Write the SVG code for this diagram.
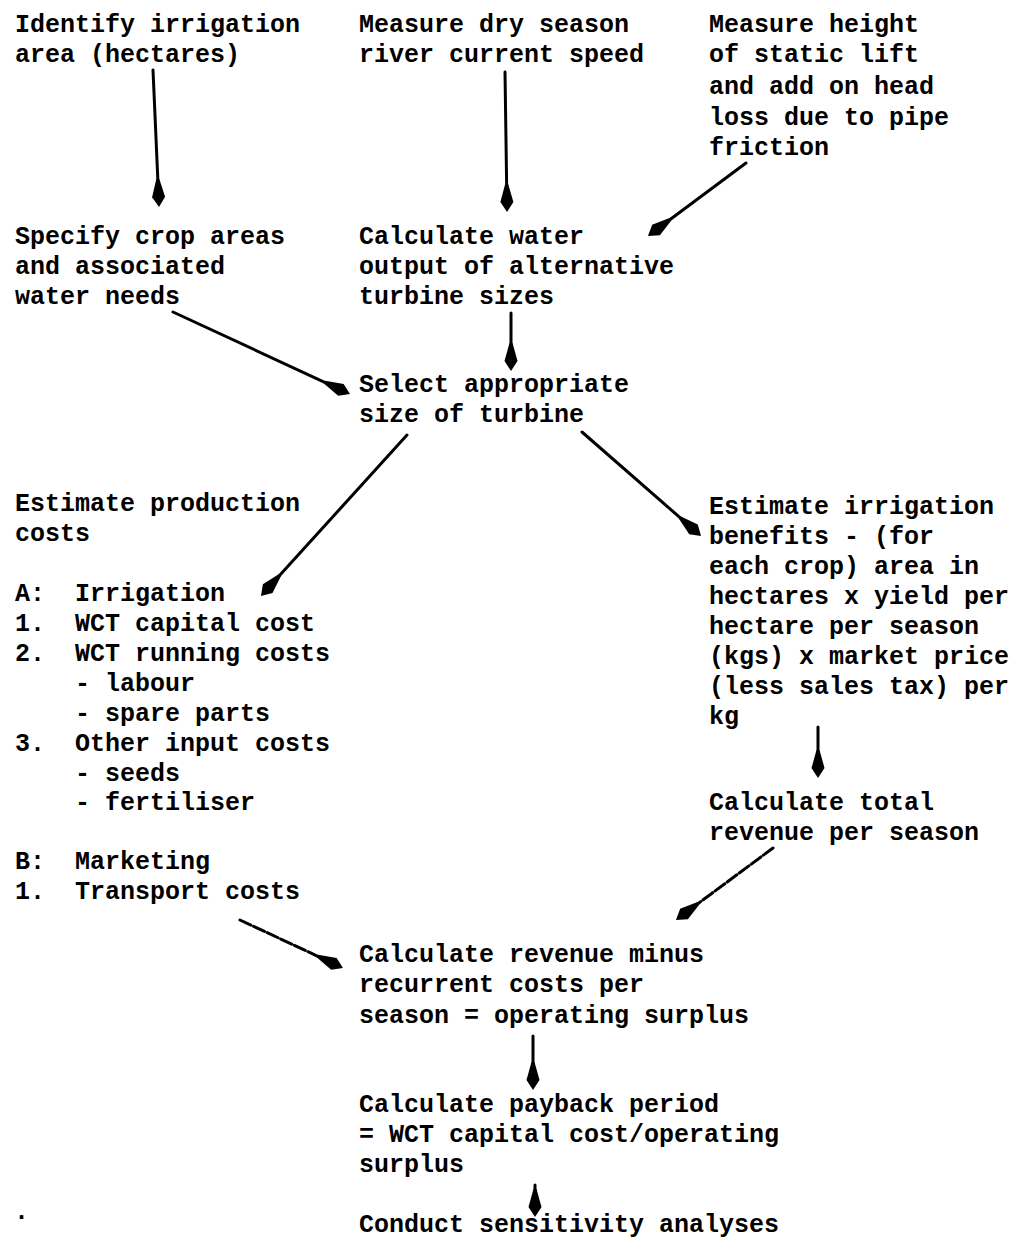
<svg xmlns="http://www.w3.org/2000/svg" width="1015" height="1243" viewBox="0 0 1015 1243">
<style>
text{font-family:"Liberation Mono","DejaVu Sans Mono",monospace;font-size:25px;font-weight:bold;fill:#000}
.c{fill:none;stroke:#000;stroke-width:3;stroke-linecap:round}
.d{stroke-dasharray:12 3}
</style>
<defs>
<marker id="ah" markerUnits="userSpaceOnUse" markerWidth="32" markerHeight="16" viewBox="-30 -8 32 16" refX="-10" refY="0" orient="auto">
<path d="M0,0 L-10,-6.5 L-28,-1.5 L-28,1.5 L-10,6.5 Z" fill="#000"/>
</marker>
</defs>
<rect width="1015" height="1243" fill="#fff"/>
<g id="n1"><text x="15" y="32">Identify irrigation</text><text x="15" y="62">area (hectares)</text></g>
<g id="n2"><text x="359" y="32">Measure dry season</text><text x="359" y="62">river current speed</text></g>
<g id="n3"><text x="709" y="32">Measure height</text><text x="709" y="62">of static lift</text><text x="709" y="94">and add on head</text><text x="709" y="125">loss due to pipe</text><text x="709" y="155">friction</text></g>
<g id="n4"><text x="15" y="244">Specify crop areas</text><text x="15" y="274">and associated</text><text x="15" y="304">water needs</text></g>
<g id="n5"><text x="359" y="244">Calculate water</text><text x="359" y="274">output of alternative</text><text x="359" y="304">turbine sizes</text></g>
<g id="n6"><text x="359" y="392">Select appropriate</text><text x="359" y="422">size of turbine</text></g>
<g id="n7">
<text x="15" y="511">Estimate production</text><text x="15" y="541">costs</text>
<text x="15" y="601">A:</text><text x="75" y="601">Irrigation</text>
<text x="15" y="631">1.</text><text x="75" y="631">WCT capital cost</text>
<text x="15" y="661">2.</text><text x="75" y="661">WCT running costs</text>
<text x="75" y="691">- labour</text>
<text x="75" y="721">- spare parts</text>
<text x="15" y="751">3.</text><text x="75" y="751">Other input costs</text>
<text x="75" y="781">- seeds</text>
<text x="75" y="810">- fertiliser</text>
<text x="15" y="869">B:</text><text x="75" y="869">Marketing</text>
<text x="15" y="899">1.</text><text x="75" y="899">Transport costs</text>
</g>
<g id="n8"><text x="709" y="514">Estimate irrigation</text><text x="709" y="544">benefits - (for</text><text x="709" y="574">each crop) area in</text><text x="709" y="604">hectares x yield per</text><text x="709" y="634">hectare per season</text><text x="709" y="664">(kgs) x market price</text><text x="709" y="694">(less sales tax) per</text><text x="709" y="724">kg</text></g>
<g id="n9"><text x="709" y="810">Calculate total</text><text x="709" y="840">revenue per season</text></g>
<g id="n10"><text x="359" y="962">Calculate revenue minus</text><text x="359" y="992">recurrent costs per</text><text x="359" y="1023">season = operating surplus</text></g>
<g id="n11"><text x="359" y="1112">Calculate payback period</text><text x="359" y="1142">= WCT capital cost/operating</text><text x="359" y="1172">surplus</text></g>
<g id="n12"><text x="359" y="1232">Conduct sensitivity analyses</text></g>
<g id="stray"><text x="14" y="1219">.</text></g>
<g id="connectors">
<line class="c" x1="153" y1="70" x2="158.6" y2="197" marker-end="url(#ah)"/>
<line class="c" x1="505" y1="72" x2="506.9" y2="202" marker-end="url(#ah)"/>
<line class="c" x1="746" y1="163" x2="656" y2="230" marker-end="url(#ah)"/>
<line class="c" x1="173" y1="312" x2="340.9" y2="389.8" marker-end="url(#ah)"/>
<line class="c" x1="511" y1="313" x2="511" y2="361" marker-end="url(#ah)"/>
<line class="c" x1="407" y1="435" x2="267.7" y2="588.6" marker-end="url(#ah)"/>
<line class="c" x1="582" y1="432" x2="693.5" y2="529.4" marker-end="url(#ah)"/>
<line class="c" x1="818" y1="727" x2="818" y2="768" marker-end="url(#ah)"/>
<line class="c d" x1="773" y1="848" x2="684" y2="914" marker-end="url(#ah)"/>
<line class="c d" x1="240" y1="920" x2="333.9" y2="963.8" marker-end="url(#ah)"/>
<line class="c" x1="533" y1="1036" x2="533" y2="1080" marker-end="url(#ah)"/>
<line class="c" x1="535" y1="1185" x2="535" y2="1207" marker-end="url(#ah)"/>
</g>
</svg>
